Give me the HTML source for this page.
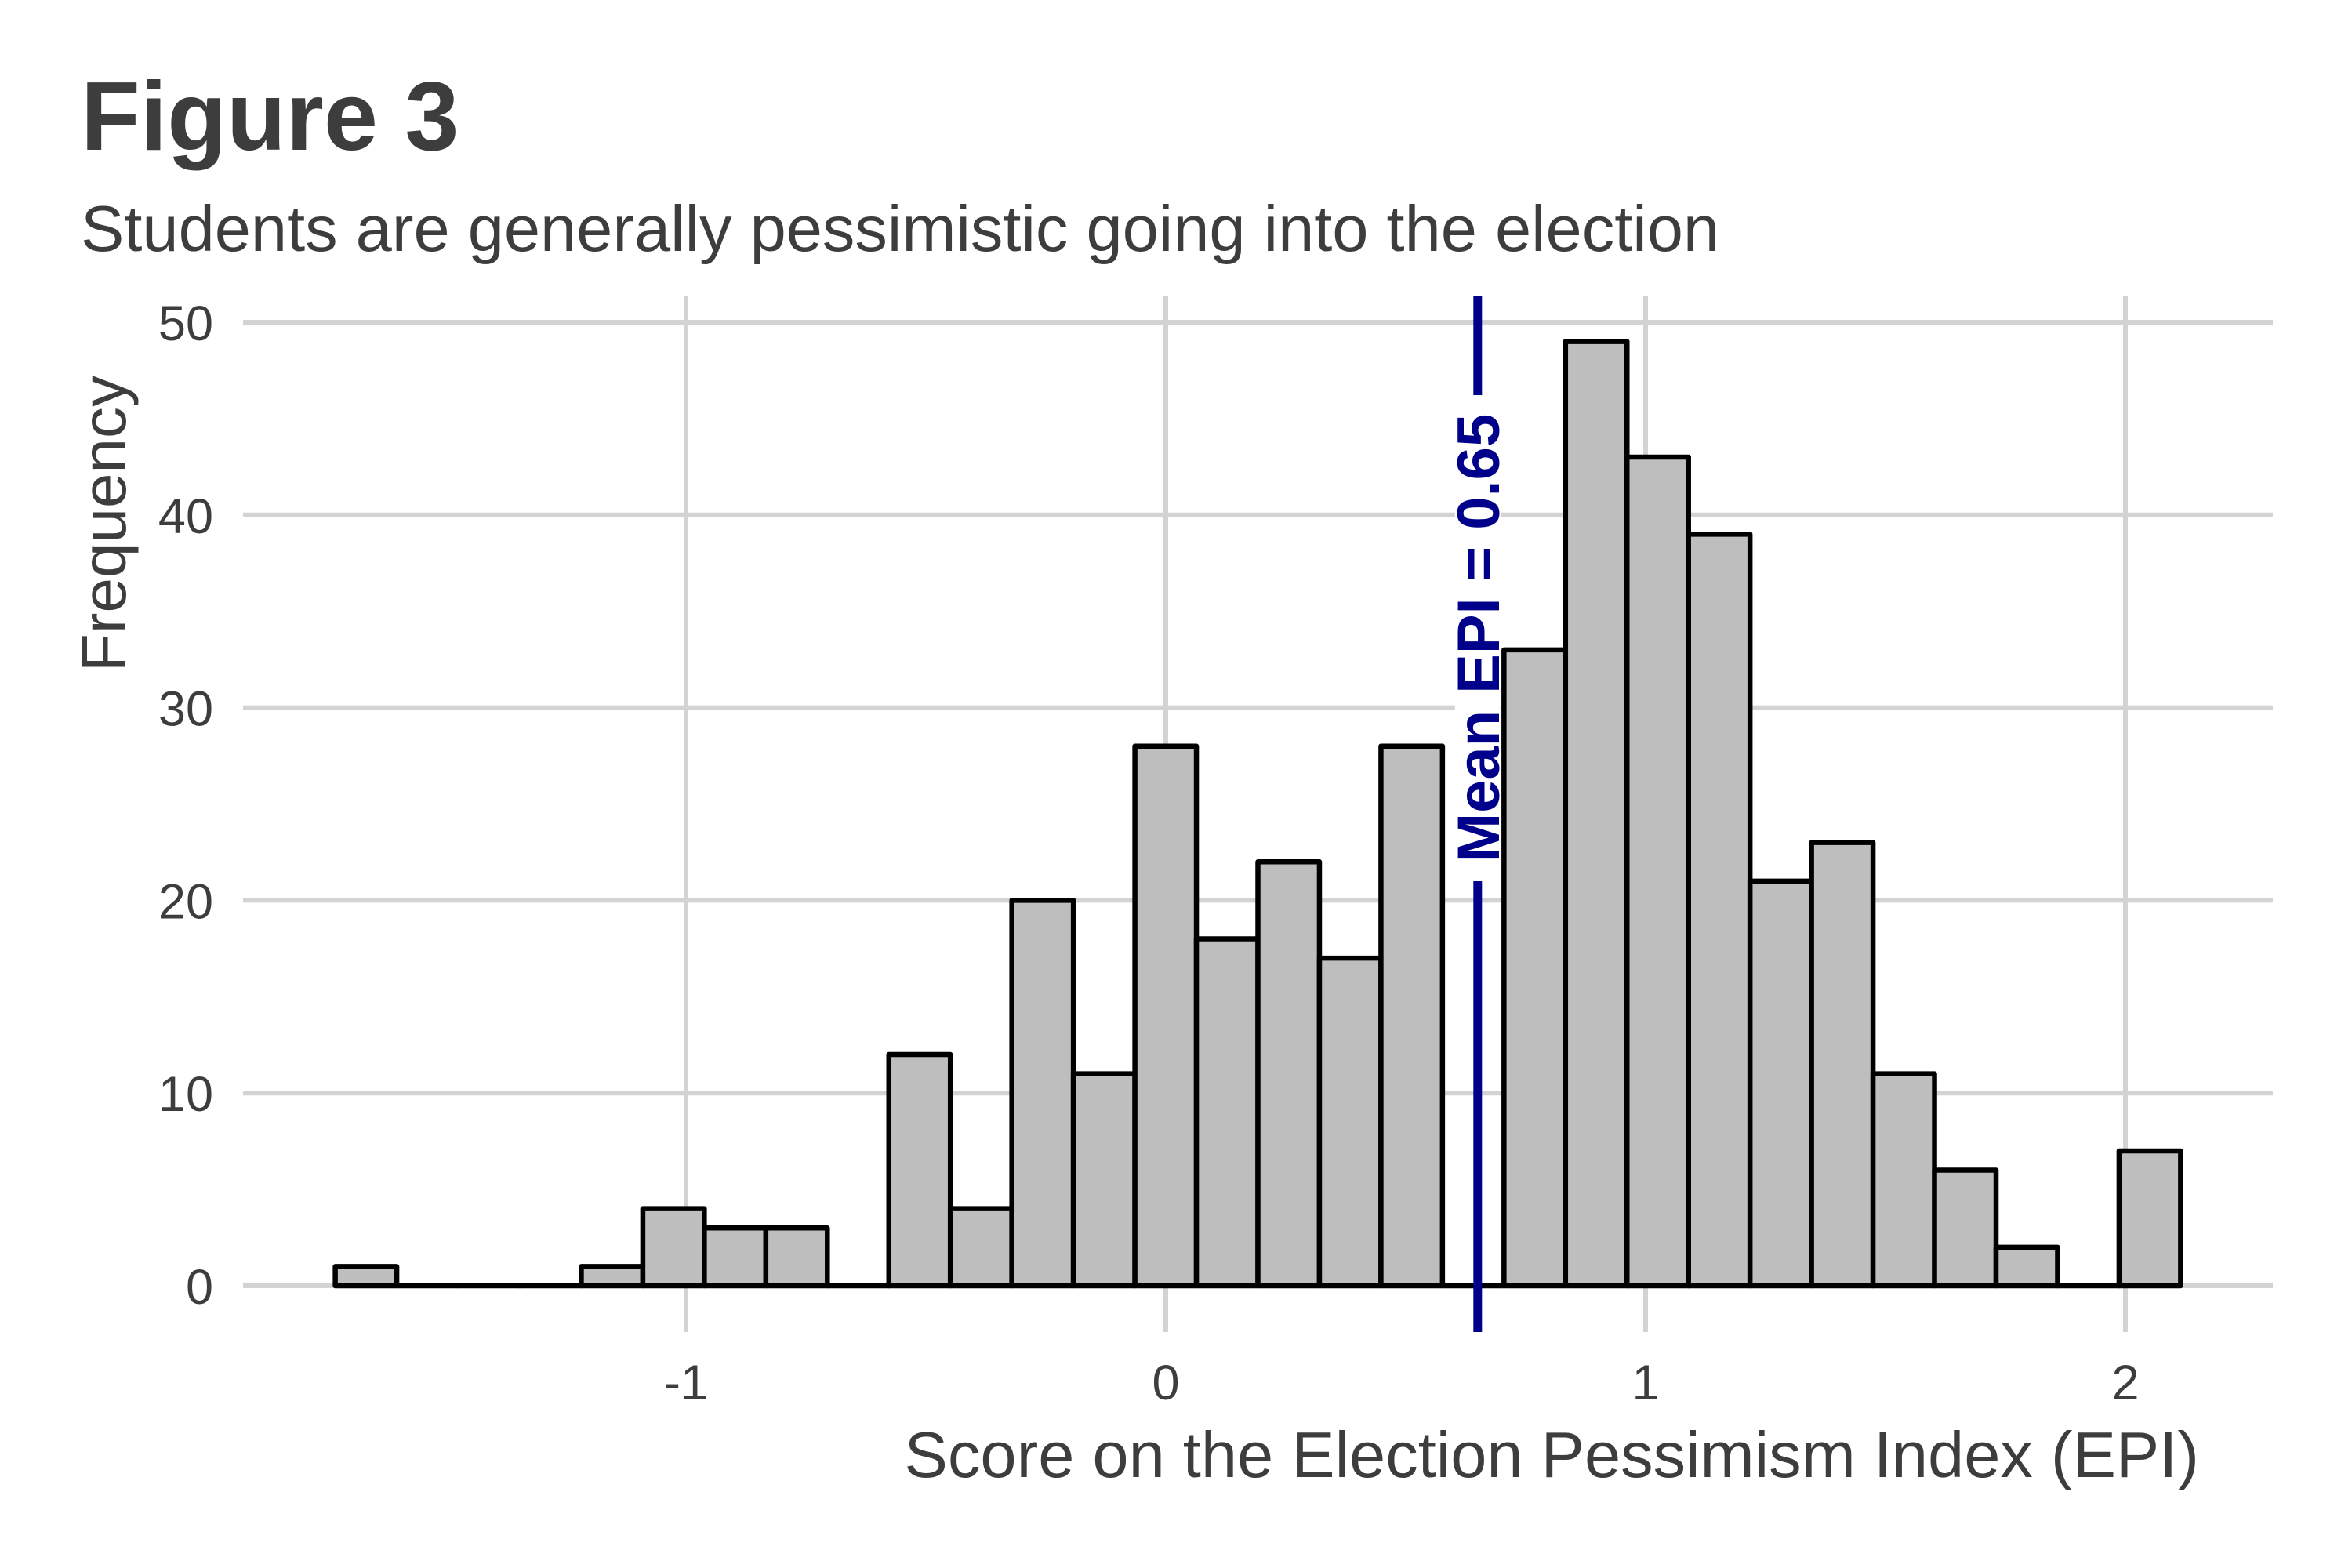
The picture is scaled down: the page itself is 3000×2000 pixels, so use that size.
<!DOCTYPE html>
<html><head><meta charset="utf-8"><style>
html,body{margin:0;padding:0;background:#fff;}
svg{display:block;font-family:"Liberation Sans",Arial,sans-serif;}
</style></head><body>
<svg id="chart" width="3000" height="2000" viewBox="0 0 3000 2000" xmlns="http://www.w3.org/2000/svg">
<text x="103" y="191" font-size="124" font-weight="bold" fill="#3d3d3d">Figure 3</text>
<text x="103" y="320" font-size="83" fill="#3d3d3d">Students are generally pessimistic going into the election</text>
<g id="grid"></g>
<g id="bars"></g>
<g id="mean"></g>
<text x="2805" y="1884" font-size="83" fill="#3d3d3d" text-anchor="end">Score on the Election Pessimism Index (EPI)</text>
<text transform="translate(160,668) rotate(-90)" font-size="80" fill="#3d3d3d" text-anchor="middle">Frequency</text>
</svg>
<script>
const binStart = -1.731;
const binWidth = 0.1282;
const counts = [1,0,0,0,1,4,3,3,0,12,4,20,11,28,18,22,17,28,0,33,49,43,39,21,23,11,6,2,0,7];
const xTicks = [-1,0,1,2];
const xTickLabels = ["-1","0","1","2"];
const yTicks = [0,10,20,30,40,50];
const yTickLabels = ["0","10","20","30","40","50"];
const meanValue = 0.65;
const meanLabel = "Mean EPI = 0.65";

const NS="http://www.w3.org/2000/svg";
const px0=1487, pxPer=612, py0=1640, pyPer=24.58;
const X=v=>px0+v*pxPer;
const Y=v=>py0-v*pyPer;
const plotLeft=310,plotRight=2899,plotTop=377,plotBottom=1699;
function mk(tag,attrs,parent){const e=document.createElementNS(NS,tag);for(const k in attrs)e.setAttribute(k,attrs[k]);parent.appendChild(e);return e;}
const gridG=document.getElementById('grid');
yTicks.forEach((t,i)=>{
  const l=mk('line',{x1:plotLeft,x2:plotRight,y1:Y(t),y2:Y(t),stroke:'#d3d3d3','stroke-width':6},gridG);
  
  
  const tx=mk('text',{x:272,y:Y(t)+23,'font-size':63,fill:'#3d3d3d','text-anchor':'end'},gridG);
  tx.textContent=yTickLabels[i];
  
  
});
xTicks.forEach((t,i)=>{
  const l=mk('line',{x1:X(t),x2:X(t),y1:plotTop,y2:plotBottom,stroke:'#d3d3d3','stroke-width':6},gridG);
  
  
  const tx=mk('text',{x:X(t),y:1785,'font-size':63,fill:'#3d3d3d','text-anchor':'middle'},gridG);
  tx.textContent=xTickLabels[i];
  
  
});
const barsG=document.getElementById('bars');
counts.forEach((c,i)=>{
  const x0=X(binStart+i*binWidth), x1=X(binStart+(i+1)*binWidth);
  const y0=Y(0), y1=Y(c);
  const r=mk('path',{d:`M${x0},${y0}L${x0},${y1}L${x1},${y1}L${x1},${y0}Z`,fill:'#bebebe',stroke:'#000','stroke-width':6.5,'stroke-linejoin':'round'},barsG);
  
  
});
const meanG=document.getElementById('mean');
const mx=X(meanValue);
const ml=mk('line',{x1:mx,x2:mx,y1:plotTop,y2:plotBottom,stroke:'#00008b','stroke-width':11},meanG);


const cy=814;
const bg=mk('rect',{x:mx-29,y:cy-310,width:58,height:620,fill:'#fff'},meanG);


const mt=mk('text',{transform:`translate(${mx+27},${cy}) rotate(-90)`,'font-size':76,'font-weight':'bold',fill:'#00008b','text-anchor':'middle'},meanG);
mt.textContent=meanLabel;


</script>
</body></html>
